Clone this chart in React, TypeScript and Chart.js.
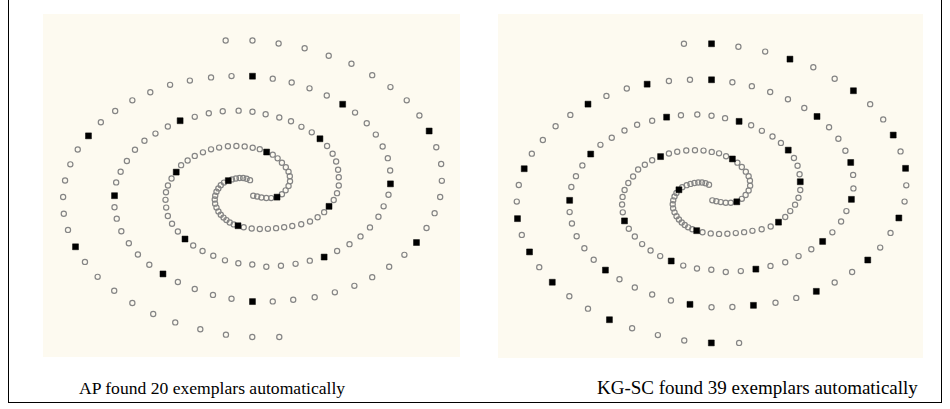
import React, { useEffect, useRef } from "react";
import { Chart, registerables } from "chart.js";

Chart.register(...registerables);

// Spiral arm A (from the centre outwards), data units
const armA: [number, number][] = [
  [250,180],[246.5,178.6],[243,177.8],[239.3,177.7],[235.5,178.3],[231.5,179.2],[227.7,180.5],[223.3,182.5],[220,185.2],[217.5,188.5],[215.6,192],[214.3,196],[213.8,200],[214.2,204.2],[215.6,208.3],[217.6,212.2],[220,215.6],[222.8,218.6],[225.8,221.2],[229.2,223.6],[233.3,225.6],[237.7,227],[243.5,228.6],[251.7,229.8],[260,230.3],[268.3,230.2],[276.7,229.5],[285,228.5],[293.3,227.2],[302.5,225.5],[311.5,222.7],[319.3,218.3],[326,213],[331,207],[335.8,200.4],[339.2,193.4],[341,185.5],[341,177],[340.3,169.3],[338.3,160.7],[334.7,152.7],[329,144.7],[321.7,137.3],[313.3,130.7],[302.7,125],[292,119.3],[280,115.3],[266,112],[252.5,109.5],[238.3,108.3],[222,109],[207.7,111],[193.3,114.7],[178.3,118.7],[165.7,124.7],[153,132],[141.7,139.3],[132,148.7],[123.7,160.3],[117.3,171.3],[112.7,182.3],[111,196],[111,208],[113.3,219.7],[118,232.7],[125.7,245],[135,256.7],[146.7,267.3],[160.7,276.7],[176,285],[193.3,292.3],[212,298.3],[231,302.3],[252.5,305.2],[273.3,305],[294.3,303.3],[316.3,300.7],[337,295.7],[357,289],[375.3,280],[392.7,269.3],[408.3,257],[420.7,244.3],[431,229.3],[439.3,214],[445,197.3],[446.7,180.7],[446,163.3],[441,146],[433.7,129.3],[423.7,113.3],[410.7,97.7],[394,84],[375.3,71.7],[354,60],[330.7,51.7],[306,44],[279.3,39],[252.5,36],[225,36]
];

// Spiral arm B (from the centre outwards), data units
const armB: [number, number][] = [
  [253.3,196],[257.3,196.9],[261.7,197.8],[266.7,198.4],[271.7,198.5],[277.7,197.5],[282.7,194.5],[286.5,190.5],[289.5,186],[291,181],[290.8,176],[289.5,171.3],[286.7,166.7],[282.7,162],[278.3,157.5],[273.3,153.7],[267,151],[260,148],[252.7,146.5],[244.5,145.2],[236,144.8],[227.3,145],[218.3,146.4],[210,148.2],[201.7,151.3],[193.3,155],[186,159.7],[179.3,164.5],[174.3,171.7],[169.5,178.3],[165.8,185.5],[163.8,192.5],[163.3,200.3],[164,208.3],[165.7,217],[170,225],[176,233],[183.3,240.7],[191.7,247.3],[201.3,253],[212.3,258],[224.3,262.7],[238,265.7],[252.3,267],[266.7,269.3],[281.7,268.3],[296.7,266.3],[311.3,263],[326,259.3],[339.3,253],[352,246],[363.3,238],[373,228.7],[381.7,217.7],[387,207],[392,195],[394,183.8],[393.7,170],[391.3,157.3],[386,145.3],[379,133],[369.7,121.3],[357.7,110.3],[345,101.7],[328.7,92.7],[311,85.3],[292.7,79.3],[273.3,75.3],[252.5,72.8],[231,72.7],[210,74],[188.3,77.3],[168,81.7],[147.7,89.3],[129.3,97.7],[111.7,108.7],[97,120.3],[84.3,134.3],[73.3,148.3],[65.7,163.7],[60.3,180.3],[58.3,197.3],[59,214.7],[63.3,231.3],[71,248.7],[80.7,264.3],[93.7,279.7],[110.7,294],[129.3,306.7],[150.7,318],[173.3,326.7],[199,333.7],[225.3,339.3],[252.3,341.7],[280,341.7]
];

// Exemplars found by AP (20)
const apExemplars: [number, number][] = [
  [227.7,180.5],[237.7,227],[331,207],[321.7,137.3],[178.3,118.7],[111,196],[160.7,276.7],[252.5,305.2],[420.7,244.3],[433.7,129.3],
  [277.7,197.5],[267,151],[174.3,171.7],[183.3,240.7],[326,259.3],[394,183.8],[345,101.7],[252.5,72.8],[84.3,134.3],[71,248.7]
];

// Exemplars found by KG-SC (39)
const kgscExemplars: [number, number][] = [
  [252.5,36],[188.3,77.3],[252.5,72.8],[129.3,97.7],[207.7,111],[132,148.7],[201.7,151.3],[65.7,163.7],[220,185.2],[330.7,51.7],
  [394,84],[357.7,110.3],[280,115.3],[433.7,129.3],[329,144.7],[273.3,153.7],[391.3,157.3],[446,163.3],[341,177],[111,196],
  [59,214.7],[165.7,217],[237.7,227],[71,248.7],[212.3,258],[146.7,267.3],[93.7,279.7],[231,302.3],[150.7,318],[252.3,341.7],
  [277.7,197.5],[319.3,218.3],[392,195],[439.3,214],[363.3,238],[296.7,266.3],[408.3,257],[357,289],[294.3,303.3]
];

const captions = ["AP found 20 exemplars automatically", "KG-SC found 39 exemplars automatically"];

const allPoints: [number, number][] = [...armA, ...armB];

function splitPoints(exemplars: [number, number][]) {
  const used = new Set<number>();
  exemplars.forEach(([ex, ey]) => {
    let best = -1;
    let bd = Infinity;
    allPoints.forEach(([x, y], i) => {
      const d = (x - ex) ** 2 + (y - ey) ** 2;
      if (d < bd) { bd = d; best = i; }
    });
    used.add(best);
  });
  const open = allPoints.filter((_, i) => !used.has(i)).map(([x, y]) => ({ x, y }));
  const filled = allPoints.filter((_, i) => used.has(i)).map(([x, y]) => ({ x, y }));
  return { open, filled };
}

type PanelProps = {
  exemplars: [number, number][];
  left: number; top: number; width: number; height: number;
  xMin: number; xMax: number; yMin: number; yMax: number;
};

function Panel(p: PanelProps) {
  const ref = useRef<HTMLCanvasElement | null>(null);
  useEffect(() => {
    if (!ref.current) return;
    const { open, filled } = splitPoints(p.exemplars);
    const chart = new Chart(ref.current, {
      type: "scatter",
      data: {
        datasets: [
          {
            data: filled,
            order: 0,
            pointStyle: "rect",
            pointRadius: 4.2,
            pointBorderWidth: 0.5,
            pointBorderColor: "#000",
            pointBackgroundColor: "#000",
            showLine: false,
            clip: false,
          } as any,
          {
            data: open,
            order: 1,
            pointStyle: "circle",
            pointRadius: 2.6,
            pointBorderWidth: 1.2,
            pointBorderColor: "#858585",
            pointBackgroundColor: "rgba(0,0,0,0)",
            showLine: false,
            clip: false,
          } as any,
        ],
      },
      options: {
        animation: false,
        responsive: false,
        maintainAspectRatio: false,
        events: [],
        layout: { padding: 0 },
        plugins: { legend: { display: false }, tooltip: { enabled: false }, title: { display: false } },
        scales: {
          x: { type: "linear", display: false, min: p.xMin, max: p.xMax },
          y: { type: "linear", display: false, min: p.yMin, max: p.yMax, reverse: true },
        },
      },
    });
    return () => chart.destroy();
  }, []);
  return (
    <canvas
      ref={ref}
      width={p.width}
      height={p.height}
      style={{
        position: "absolute",
        left: p.left,
        top: p.top,
        width: p.width,
        height: p.height,
        background: "#fdfaf0",
      }}
    />
  );
}

const captionStyle: React.CSSProperties = {
  position: "absolute",
  fontFamily: '"Liberation Serif", "Times New Roman", serif',
  color: "#000",
  whiteSpace: "nowrap",
};

export default function App() {
  return (
    <div style={{ position: "absolute", left: 0, top: 0, width: 950, height: 409, background: "#fff" }}>
      <div
        style={{
          position: "absolute",
          left: 8,
          top: 0,
          width: 932,
          height: 402,
          borderLeft: "1px solid #000",
          borderRight: "1px solid #000",
          borderBottom: "1px solid #000",
        }}
      />
      <Panel exemplars={apExemplars} left={43} top={14} width={417} height={343} xMin={43} xMax={460} yMin={14} yMax={357} />
      <Panel exemplars={kgscExemplars} left={498} top={14} width={425} height={344} xMin={44.75} xMax={458.2} yMin={10.9} yMax={351.8} />
      <div style={{ ...captionStyle, left: 79, top: 379, fontSize: 17.6, lineHeight: "18px" }}>{captions[0]}</div>
      <div style={{ ...captionStyle, left: 597, top: 378, fontSize: 19, lineHeight: "19px" }}>{captions[1]}</div>
    </div>
  );
}
